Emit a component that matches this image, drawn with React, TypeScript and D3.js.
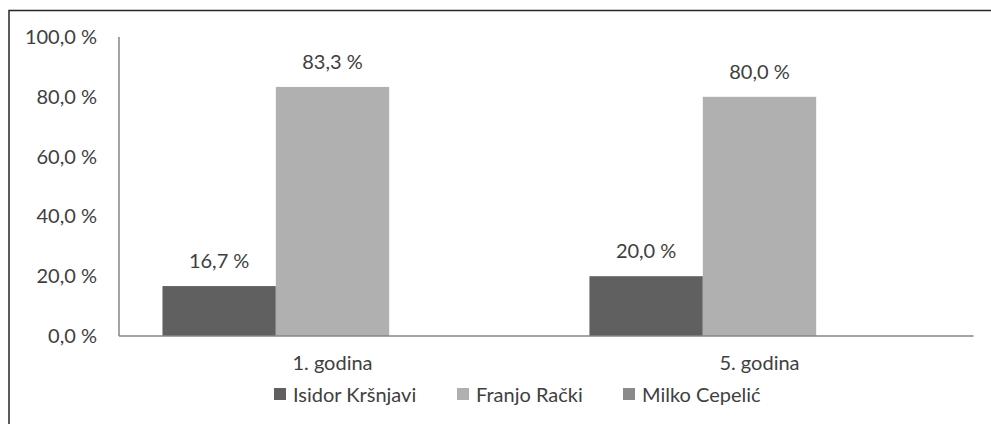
import * as React from 'react';
import * as d3 from 'd3';

const categories = ['1. godina', '5. godina'];
const seriesNames = ['Isidor Kršnjavi', 'Franjo Rački', 'Milko Cepelić'];
const seriesColors = ['#606060', '#b0b0b0', '#8a8a8a'];
const seriesValues = [
  [16.7, 20.0],
  [83.3, 80.0],
  [0, 0],
];
const yTicks = [0, 20, 40, 60, 80, 100];

const W = 991;
const H = 424;
const margin = { top: 37, right: 18, bottom: 88, left: 119 };
const FONT = 'Lato, sans-serif';
const TEXT = '#404040';
const FS = 20;

const fmt = (v: number) => d3.format('.1f')(v).replace('.', ',') + ' %';

export default function App() {
  const innerW = W - margin.left - margin.right;
  const innerH = H - margin.top - margin.bottom;

  const x0 = d3.scaleBand().domain(categories).range([0, innerW]).paddingInner(0.2035).paddingOuter(0.1018);
  const x1 = d3.scaleBand().domain(seriesNames).range([0, x0.bandwidth()]);
  const y = d3.scaleLinear().domain([0, 100]).range([innerH, 0]);

  // legend layout
  const legendX = [274, 457, 623];

  return (
    <svg width={W} height={H} style={{ position: 'absolute', left: 0, top: 0 }} fontFamily={FONT}>
      <rect x={0} y={0} width={W} height={H} fill="#fff" />
      <path d={`M9,${H + 5}V10.5H${W + 5}`} fill="none" stroke="#262626" strokeWidth={1.5} />
      <g transform={`translate(${margin.left},${margin.top})`}>
        {yTicks.map(t => (
          <text key={t} x={-22} y={y(t)} dy="0.35em" textAnchor="end" fontSize={FS} fill={TEXT}>
            {fmt(t)}
          </text>
        ))}
        {seriesNames.map((s, si) =>
          categories.map((c, ci) => {
            const v = seriesValues[si][ci];
            const bx = (x0(c) ?? 0) + (x1(s) ?? 0);
            return (
              <g key={s + c}>
                <rect x={bx} y={y(v)} width={x1.bandwidth()} height={innerH - y(v)} fill={seriesColors[si]} />
                {v > 0 && (
                  <text x={bx + x1.bandwidth() / 2} y={y(v) - 25} dy="0.35em" textAnchor="middle" fontSize={FS} fill={TEXT}>
                    {fmt(v)}
                  </text>
                )}
              </g>
            );
          })
        )}
        <line x1={0} x2={0} y1={0} y2={innerH} stroke="#868686" strokeWidth={1.5} />
        <line x1={0} x2={innerW + 0.5} y1={innerH} y2={innerH} stroke="#868686" strokeWidth={1.5} />
        {categories.map(c => (
          <text key={c} x={(x0(c) ?? 0) + x0.bandwidth() / 2} y={innerH + 27} dy="0.35em" textAnchor="middle" fontSize={FS} fill={TEXT}>
            {c}
          </text>
        ))}
      </g>
      {seriesNames.map((s, i) => (
        <g key={s} transform={`translate(${legendX[i]},395)`}>
          <rect x={0} y={-7} width={12} height={12} fill={seriesColors[i]} />
          <text x={19} y={0} dy="0.35em" fontSize={FS} fill={TEXT}>{s}</text>
        </g>
      ))}
    </svg>
  );
}
